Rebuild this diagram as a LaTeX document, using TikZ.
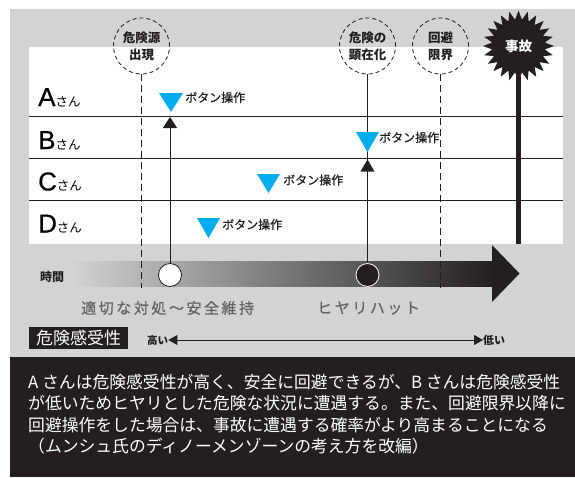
\documentclass[tikz,border=0pt]{standalone}
\usepackage{fontspec}
\setmainfont{Noto Sans CJK JP}
\newfontfamily\lat{Liberation Sans}
\usetikzlibrary{arrows.meta}
\definecolor{bgc}{HTML}{D1D3D4}
\definecolor{dark}{HTML}{231F20}
\definecolor{cyanb}{HTML}{00AEEF}
\definecolor{greytxt}{HTML}{636466}
\tikzset{
  rowline/.style={draw=dark, line width=1.5pt},
  dashcirc/.style={circle, draw=dark, line width=0.8pt, dash pattern=on 4pt off 3pt, minimum size=56pt, inner sep=0pt, align=center, font=\bfseries\fontsize{12.5}{17}\selectfont, text=dark},
  dashv/.style={draw=dark, line width=1pt, dash pattern=on 7pt off 4pt},
  solidv/.style={draw=dark, line width=1pt},
  cyantri/.style={fill=cyanb},
  btnlabel/.style={anchor=west, font=\fontsize{12}{12}\selectfont\addfontfeatures{FakeBold=0.6}, text=dark},
  rowlab/.style={anchor=base west},
  phase/.style={anchor=west, font=\fontsize{15}{15}\selectfont\addfontfeatures{LetterSpace=17,FakeBold=0.8}, text=greytxt},
  bodytext/.style={anchor=west, text=white, font=\fontsize{16.8}{16.8}\selectfont},
}
\begin{document}
\begin{tikzpicture}[x=1pt,y=-1pt, every node/.style={inner sep=0pt}]
\useasboundingbox (0,0) rectangle (575,477);
\fill[white] (0,0) rectangle (575,477);
\fill[bgc] (10,9) rectangle (575,357);
\fill[white] (29,47) rectangle (563,244);
\fill[dark] (10,357) rectangle (575,477);

% row lines
\draw[rowline] (29,116.5) -- (563,116.5);
\draw[rowline] (29,158.5) -- (563,158.5);
\draw[rowline] (29,200.5) -- (563,200.5);

% row labels
\node[rowlab] (ra) at (38,106) {\lat\fontsize{26}{26}\selectfont\addfontfeatures{FakeBold=0.6}A\normalfont\fontsize{12.5}{12.5}\selectfont さん};
\node[rowlab] (rb) at (38,149) {\lat\fontsize{26}{26}\selectfont\addfontfeatures{FakeBold=0.6}B\normalfont\fontsize{12.5}{12.5}\selectfont さん};
\node[rowlab] (rc) at (38,190.5) {\lat\fontsize{26}{26}\selectfont\addfontfeatures{FakeBold=0.6}C\normalfont\fontsize{12.5}{12.5}\selectfont さん};
\node[rowlab] (rd) at (38,232.5) {\lat\fontsize{26}{26}\selectfont\addfontfeatures{FakeBold=0.6}D\normalfont\fontsize{12.5}{12.5}\selectfont さん};

% timeline
\shade[left color=bgc, right color=dark] (70,261) rectangle (492.5,286);
\fill[dark] (492,245) -- (519.5,273.5) -- (492,302) -- cycle;
\node[anchor=west, font=\bfseries\fontsize{12}{12}\selectfont, text=dark] (time) at (40,277) {時間};

% milestone circles
\node[dashcirc] (src) at (141.5,46) {危険源\\出現};
\node[dashcirc] (man) at (367.5,46) {危険の\\顕在化};
\node[dashcirc] (lim) at (440.5,46) {回避\\限界};

% accident starburst
\fill[dark] plot[samples at={0,...,47}, variable=\i] ({518.5+(31+4.5*cos(180*\i))*cos(7.5*\i)}, {46+(31+4.5*cos(180*\i))*sin(7.5*\i)}) -- cycle;
\node[font=\bfseries\fontsize{13.5}{13.5}\selectfont, text=white] (acc) at (518.5,46) {事故};
\coordinate (accend) at (518.5,244);
\draw[draw=dark, line width=5.5pt] (518.5,76) -- (accend);

% time circles
\node[circle, fill=white, draw=dark, line width=0.8pt, minimum size=23pt] (wc) at (170,275) {};
\node[circle, fill=dark, draw=white, line width=0.8pt, minimum size=23pt] (bc) at (367.5,275) {};

% dashed verticals
\coordinate (srcend) at (141.5,288);
\coordinate (limend) at (440.5,288);
\draw[dashv] (src.south) -- (srcend);
\draw[dashv] (lim.south) -- (limend);

% solid verticals
\coordinate (atip) at (170,117);
\draw[solidv, -{Triangle[width=14pt,length=11pt]}] (wc.north) -- (atip);
\draw[solidv] (man.south) -- (bc.north);
\fill[dark] (367.5,159.5) -- (374.5,171.5) -- (360.5,171.5) -- cycle;

% cyan triangles and labels
\fill[cyantri] (159,93) -- (183,93) -- (171,112) -- cycle;
\node[btnlabel] (la) at (185,97.5) {ボタン操作};
\fill[cyantri] (356,132) -- (379,132) -- (367.5,152) -- cycle;
\node[btnlabel] (lb) at (379,137.5) {ボタン操作};
\fill[cyantri] (257,174) -- (280,174) -- (268.5,193) -- cycle;
\node[btnlabel] (lc) at (283,180) {ボタン操作};
\fill[cyantri] (197,218) -- (220,218) -- (208.5,238) -- cycle;
\node[btnlabel] (ld) at (222,224.5) {ボタン操作};

% phase labels
\node[phase] (ph1) at (81,308) {適切な対処～安全維持};
\node[phase] (ph2) at (317,308) {ヒヤリハット};

% sensitivity
\node[fill=dark, text=white, minimum width=99pt, minimum height=22pt, font=\fontsize{17}{17}\selectfont] (sens) at (78.5,338) {危険感受性};
\node[anchor=west, font=\bfseries\fontsize{10.5}{10.5}\selectfont, text=dark] (hi) at (147,340) {高い};
\node[anchor=west, font=\bfseries\fontsize{11}{11}\selectfont, text=dark] (lo) at (483,340) {低い};
\draw[draw=dark, line width=1pt, {Triangle[width=10pt,length=9pt]}-{Triangle[width=10pt,length=9pt]}] (hi.east) -- (lo.west);

% body text
\node[bodytext] (t1) at (28,382) {A さんは危険感受性が高く、安全に回避できるが、B さんは危険感受性};
\node[bodytext] (t2) at (28,403.5) {が低いためヒヤリとした危険な状況に遭遇する。また、回避限界以降に};
\node[bodytext] (t3) at (28,425) {回避操作をした場合は、事故に遭遇する確率がより高まることになる};
\node[bodytext] (t4) at (28,446.5) {（ムンシュ氏のディノーメンゾーンの考え方を改編）};
\end{tikzpicture}
\end{document}
